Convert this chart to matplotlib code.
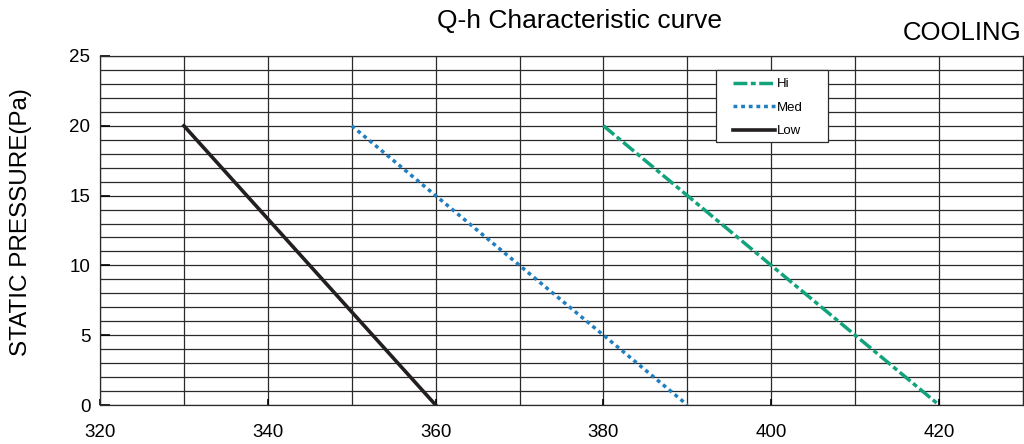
import matplotlib
matplotlib.use("Agg")
import matplotlib.pyplot as plt
from matplotlib.patches import Rectangle

plt.rcParams['font.family'] = ['Liberation Sans', 'DejaVu Sans']

hi_x = [380, 420]
hi_y = [20, 0]
med_x = [350, 390]
med_y = [20, 0]
low_x = [330, 360]
low_y = [20, 0]
x_ticks = [320, 340, 360, 380, 400, 420]
y_ticks = [0, 5, 10, 15, 20, 25]

fig = plt.figure(figsize=(10.24, 4.44), dpi=100)
ax = fig.add_axes([100/1024, 1-405/444, 923/1024, 349/444])
ax.set_xlim(320, 430)
ax.set_ylim(0, 25)

for yv in range(0, 26):
    ax.axhline(yv, color='#2a2a2a', lw=0.9, zorder=1)
for xv in range(320, 431, 10):
    ax.axvline(xv, color='#2a2a2a', lw=0.9, zorder=1)

ax.plot(hi_x, hi_y, color='#12a37c', lw=2.5, linestyle=(0, (4, 1.0, 1.4, 1.0)), label='Hi', zorder=3)
ax.plot(med_x, med_y, color='#1f7fc0', lw=2.5, linestyle=(0, (1.1, 1.1)), label='Med', zorder=3)
ax.plot(low_x, low_y, color='#231f20', lw=2.6, linestyle='-', label='Low', zorder=3)

ax.set_xticks(x_ticks)
ax.set_yticks(y_ticks)
ax.tick_params(axis='x', direction='in', length=4, width=1.2, pad=14, labelsize=13.5)
ax.tick_params(axis='y', direction='in', length=7, width=1.2, pad=7, labelsize=13.5)
for s in ax.spines.values():
    s.set_color('#2a2a2a')
    s.set_linewidth(0.9)

ax.set_ylabel('STATIC PRESSURE(Pa)', fontsize=17.5)
ax.yaxis.set_label_coords(-0.0737, 0.524)
fig.text(0.566, 0.953, 'Q-h Characteristic curve', ha='center', va='center', fontsize=19)
fig.text(0.940, 0.926, 'COOLING', ha='center', va='center', fontsize=18.5)

# legend frame
ax.add_patch(Rectangle((0.667, 0.754), 0.122, 0.206, transform=ax.transAxes,
                       facecolor='white', edgecolor='#2a2a2a', lw=0.9, zorder=4))
leg = ax.legend(loc='upper left', bbox_to_anchor=(0.686, 0.937), fontsize=9.5,
                frameon=False, handlelength=3.2, handletextpad=0.1, borderpad=0,
                labelspacing=0.85, borderaxespad=0)
leg.set_zorder(5)

fig.savefig('out.png', dpi=100)
